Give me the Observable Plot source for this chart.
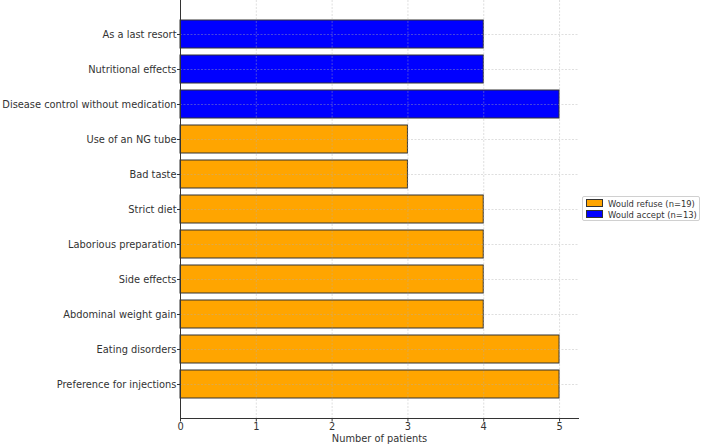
<!DOCTYPE html>
<html>
<head>
<meta charset="utf-8">
<script src="https://cdn.jsdelivr.net/npm/d3@7"></script>
<script src="https://cdn.jsdelivr.net/npm/@observablehq/plot@0.6"></script>
<style>
  html, body { margin: 0; padding: 0; background: #fff; }
  #wrap { position: relative; width: 702px; height: 445px; font-family: "DejaVu Sans", sans-serif; }
  #legend { position: absolute; left: 582px; top: 196px; width: 118px; height: 25px; border: 1px solid #d0d0d0; border-radius: 2px; background: #fff; font-size: 8.4px; color: #333; box-sizing: border-box; }
  .item { position: absolute; left: 3px; height: 10px; line-height: 10px; white-space: nowrap; }
  .sw { display: inline-block; width: 15px; height: 6px; border: 1px solid #333; vertical-align: middle; margin-right: 5px; position: relative; top: -1px; }
</style>
</head>
<body>
<div id="wrap"><div id="chart"></div><div id="legend"></div></div>
<script>
const categories = [
  "As a last resort",
  "Nutritional effects",
  "Disease control without medication",
  "Use of an NG tube",
  "Bad taste",
  "Strict diet",
  "Laborious preparation",
  "Side effects",
  "Abdominal weight gain",
  "Eating disorders",
  "Preference for injections"
];
const values = [4, 4, 5, 3, 3, 4, 4, 4, 4, 5, 5];
const groups = [
  "Would accept (n=13)", "Would accept (n=13)", "Would accept (n=13)",
  "Would refuse (n=19)", "Would refuse (n=19)", "Would refuse (n=19)", "Would refuse (n=19)",
  "Would refuse (n=19)", "Would refuse (n=19)", "Would refuse (n=19)", "Would refuse (n=19)"
];
const legendLabels = ["Would refuse (n=19)", "Would accept (n=13)"];
const legendColors = ["#FFA500", "#0000FF"];
const xTicks = [0, 1, 2, 3, 4, 5];

const data = categories.map((c, i) => ({category: c, value: values[i], group: groups[i]}));

const chart = Plot.plot({
  width: 702,
  height: 445,
  marginLeft: 180,
  marginRight: 124,
  marginTop: 0,
  marginBottom: 27,
  style: {fontFamily: "DejaVu Sans, sans-serif", fontSize: "9.85px", color: "#333", background: "#fff"},
  x: {domain: [0, 5.25]},
  y: {domain: categories, paddingInner: 0.2, paddingOuter: 0.52},
  color: {domain: legendLabels, range: legendColors},
  marks: [
    Plot.barX(data, {x: "value", y: "category", fill: "group", stroke: "#333", strokeWidth: 1}),
    Plot.gridX(xTicks, {stroke: "#b0b0b0", strokeOpacity: 0.5, strokeWidth: 0.8, strokeDasharray: "2,1.5"}),
    Plot.gridY({stroke: "#b0b0b0", strokeOpacity: 0.5, strokeWidth: 0.8, strokeDasharray: "2,1.5"}),
    Plot.axisY({tickSize: 3, tickPadding: 1, label: null, stroke: "#333"}),
    Plot.axisX(xTicks, {tickSize: 3.5, tickPadding: 1, label: "Number of patients", labelAnchor: "center", labelArrow: "none", labelOffset: 23, stroke: "#333"}),
    Plot.frame({anchor: "left", stroke: "#333"}),
    Plot.frame({anchor: "bottom", stroke: "#333"})
  ]
});
document.getElementById("chart").appendChild(chart);

const legend = document.getElementById("legend");
legendLabels.forEach((l, i) => {
  const d = document.createElement("div");
  d.className = "item";
  d.style.top = (1.5 + i * 11) + "px";
  d.innerHTML = `<span class="sw" style="background:${legendColors[i]}"></span>`;
  d.appendChild(document.createTextNode(l));
  legend.appendChild(d);
});
</script>
</body>
</html>
